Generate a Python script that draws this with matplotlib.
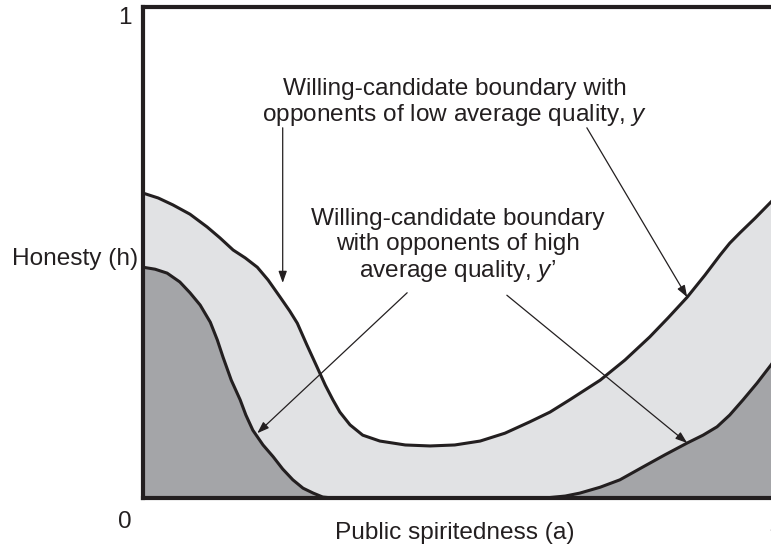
import matplotlib.pyplot as plt
import numpy as np

plt.rcParams['font.family'] = ['Liberation Sans', 'DejaVu Sans']
plt.rcParams['mathtext.fontset'] = 'custom'
plt.rcParams['mathtext.rm'] = 'Liberation Sans'
plt.rcParams['mathtext.it'] = 'Liberation Sans:italic'

# --- data (a = public spiritedness, h = honesty) ---
# boundary with opponents of low average quality, y
low_a = [0.000, 0.024, 0.047, 0.074, 0.101, 0.121, 0.142, 0.161, 0.180, 0.197,
         0.216, 0.231, 0.243, 0.258, 0.274, 0.287, 0.299, 0.310, 0.326, 0.346,
         0.373, 0.413, 0.452, 0.491, 0.531, 0.570, 0.609, 0.641, 0.672, 0.720,
         0.759, 0.798, 0.827, 0.857, 0.885, 0.909, 0.924, 0.940, 0.964, 0.989,
         1.000]
low_h = [0.621, 0.611, 0.597, 0.578, 0.552, 0.530, 0.505, 0.489, 0.470, 0.444,
         0.409, 0.381, 0.356, 0.312, 0.267, 0.230, 0.200, 0.175, 0.149, 0.128,
         0.116, 0.108, 0.106, 0.108, 0.116, 0.132, 0.155, 0.175, 0.200, 0.240,
         0.281, 0.328, 0.367, 0.409, 0.454, 0.495, 0.519, 0.540, 0.570, 0.603,
         0.617]

# boundary with opponents of high average quality, y'
high_a = [0.000, 0.019, 0.038, 0.058, 0.074, 0.090, 0.106, 0.117, 0.126, 0.139,
          0.153, 0.162, 0.173, 0.189, 0.205, 0.220, 0.236, 0.252, 0.268, 0.283,
          0.299, 0.633, 0.665, 0.688, 0.720, 0.751, 0.787, 0.822, 0.857, 0.882,
          0.904, 0.924, 0.945, 0.967, 0.989, 1.000]
high_h = [0.470, 0.466, 0.458, 0.440, 0.418, 0.393, 0.358, 0.322, 0.287, 0.240,
          0.200, 0.169, 0.138, 0.108, 0.084, 0.059, 0.037, 0.020, 0.010, 0.002,
          0.000, 0.000, 0.004, 0.010, 0.022, 0.037, 0.063, 0.088, 0.112, 0.128,
          0.145, 0.169, 0.200, 0.234, 0.271, 0.291]

ink = '#231f20'
light = '#e1e2e4'
dark = '#a4a5a8'

fig = plt.figure(figsize=(7.71, 5.5), dpi=100)
ax = fig.add_axes([143 / 771, 52 / 550, 635 / 771, 491 / 550])

ax.fill_between(low_a, 0, low_h, color=light, lw=0)
ax.fill_between(high_a, 0, high_h, color=dark, lw=0)
ax.plot(low_a, low_h, color=ink, lw=2.2, solid_joinstyle='round')
ax.plot(high_a, high_h, color=ink, lw=2.2, solid_joinstyle='round')

ax.set_xlim(0, 1)
ax.set_ylim(0, 1)
ax.set_xticks([])
ax.set_yticks([])
for s in ax.spines.values():
    s.set_linewidth(3)
    s.set_color(ink)
    s.set_zorder(5)

fs = 17.6
# axis end labels
ax.text(-0.028, -0.049, '0', fontsize=fs, ha='center', va='center', color=ink, clip_on=False)
ax.text(-0.028, 0.978, '1', fontsize=fs, ha='center', va='center', color=ink, clip_on=False)
ax.text(0.995, -0.055, '1', fontsize=fs, ha='center', va='center', color=ink, clip_on=False)

ax.set_xlabel('Public spiritedness (a)', fontsize=fs, color=ink, va='center')
ax.xaxis.set_label_coords(0.491, -0.072)
ax.set_ylabel('Honesty (h)', fontsize=fs, color=ink, rotation=0, ha='center', va='center')
ax.yaxis.set_label_coords(-0.107, 0.487)

arrow = dict(arrowstyle='-|>,head_length=0.7,head_width=0.25', color=ink, lw=0.9,
             shrinkA=0, shrinkB=0)

# annotation: low average quality
ax.text(0.491, 0.805, 'Willing-candidate boundary with\nopponents of low average quality, $y$',
        fontsize=fs, ha='center', va='center', multialignment='center', color=ink,
        linespacing=1.1)
ax.annotate('', xy=(0.220, 0.438), xytext=(0.220, 0.754), arrowprops=arrow)
ax.annotate('', xy=(0.857, 0.409), xytext=(0.699, 0.754), arrowprops=arrow)

# annotation: high average quality
ax.text(0.496, 0.513, 'Willing-candidate boundary\nwith opponents of high\naverage quality, $y$\u2019',
        fontsize=fs, ha='center', va='center', multialignment='center', color=ink,
        linespacing=1.15)
ax.annotate('', xy=(0.180, 0.132), xytext=(0.416, 0.418), arrowprops=arrow)
ax.annotate('', xy=(0.857, 0.112), xytext=(0.573, 0.413), arrowprops=arrow)

plt.savefig('out.png', dpi=100)
